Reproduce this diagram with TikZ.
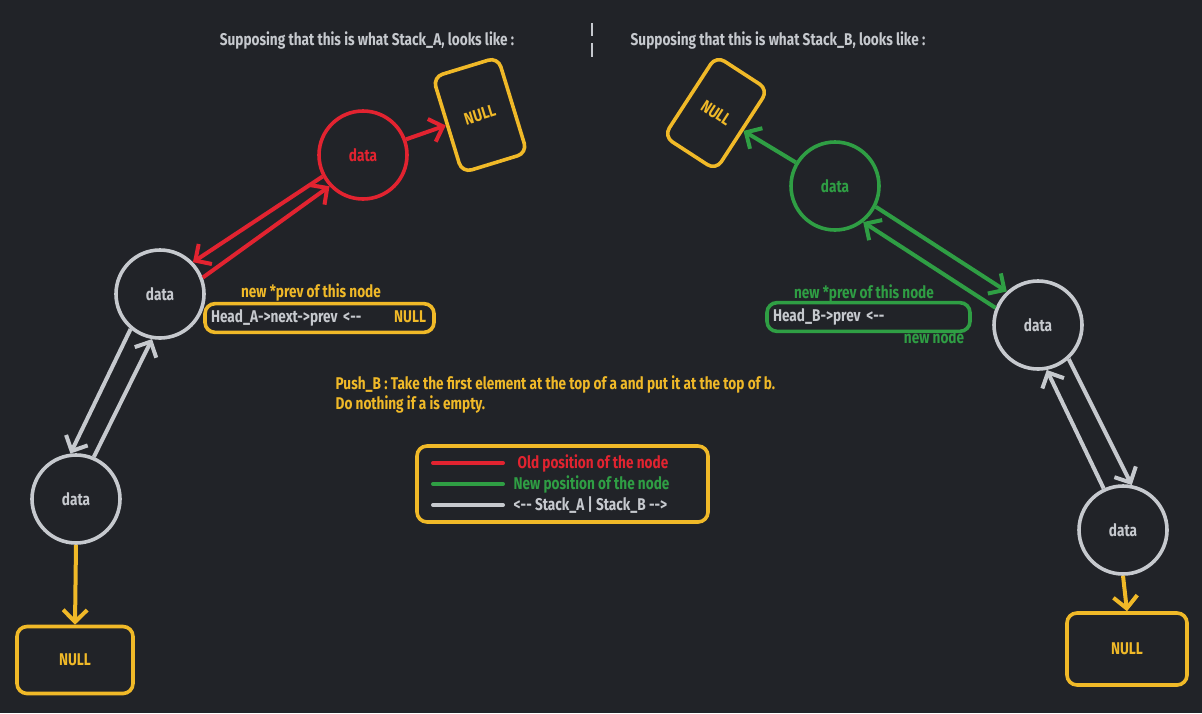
\documentclass[tikz,border=0pt]{standalone}
\usepackage{fontspec}
\setmainfont{Fira Sans}[FakeStretch=0.8]
\usetikzlibrary{arrows.meta}
\definecolor{bg}{RGB}{33,35,40}
\definecolor{cred}{RGB}{226,35,48}
\definecolor{cgreen}{RGB}{47,158,68}
\definecolor{cgray}{RGB}{198,201,206}
\definecolor{cyel}{RGB}{240,185,40}
\begin{document}
\begin{tikzpicture}[x=0.5pt, y=-0.5pt, line width=2pt, >={Straight Barb[length=6pt,width=12pt]},
    every node/.style={font=\fontsize{8.5}{10}\selectfont\bfseries},
    datanode/.style={circle, draw, line width=1.8pt, minimum size=44pt, inner sep=0pt},
    nullbox/.style={draw=cyel, text=cyel, rounded corners=5pt, line width=1.8pt, inner sep=0pt},
    headbox/.style={draw, rounded corners=5pt, line width=1.8pt, inner sep=3pt, align=left, text=cgray}]
   	 \fill[bg] (0,0) rectangle (1202,713);
   	 \node[text=cgray] (supa) at (367,40) {Supposing that this is what Stack\_A, looks like :};
   	 \node[text=cgray] (supb) at (778,40) {Supposing that this is what Stack\_B, looks like :};
   	 \draw[cgray, line width=0.75pt] (592,23) -- (592,36) (592,43) -- (592,57);
   	 \node[datanode, draw=cred, text=cred] (ra) at (363,155) {data};
   	 \node[nullbox, minimum width=34pt, minimum height=50pt, rotate=17] (na) at (480,115) {NULL};
   	 \node[datanode, draw=cgray, text=cgray] (a1) at (160,294) {data};
   	 \node[datanode, draw=cgray, text=cgray] (a2) at (76,499) {data};
   	 \node[nullbox, minimum width=58pt, minimum height=33.5pt] (na2) at (75,660) {NULL};
   	 \draw[->, cred] (ra.20) -- (na.west);
   	 \draw[->, cred] (ra.208) -- (a1.44);
   	 \draw[->, cred] (a1.21) -- (ra.223);
   	 \draw[->, cgray] (a1.230) -- (a2.97);
   	 \draw[->, cgray] (a2.67) -- (a1.260);
   	 \draw[->, cyel] (a2.south) -- (na2.north);
   	 \node[text=cyel] (preva) at (311,292) {new *prev of this node};
   	 \node[headbox, draw=cyel, text width=108.5pt, minimum height=13pt] (ha) at (319.5,318)
   	   {Head\_A->next->prev <-{}-\hfill\textcolor{cyel}{NULL}\hspace*{1pt}};
   	 \node[datanode, draw=cgreen, text=cgreen] (gb) at (835,186) {data};
   	 \node[nullbox, minimum width=31pt, minimum height=48pt, rotate=-33] (nb) at (716,113) {NULL};
   	 \node[datanode, draw=cgray, text=cgray] (b1) at (1038,325) {data};
   	 \node[datanode, draw=cgray, text=cgray] (b2) at (1123,530) {data};
   	 \node[nullbox, minimum width=60pt, minimum height=36pt] (nb2) at (1127,649) {NULL};
   	 \draw[->, cgreen] (gb.149) -- (nb.east);
   	 \draw[->, cgreen] (gb.333) -- (b1.133);
   	 \draw[->, cgreen] (b1.158) -- (gb.308);
   	 \draw[->, cgray] (b1.312) -- (b2.79);
   	 \draw[->, cgray] (b2.115) -- (b1.281);
   	 \draw[->, cyel] (b2.south) -- (nb2.north);
   	 \node[text=cgreen] (prevb) at (864,293) {new *prev of this node};
   	 \node[headbox, draw=cgreen, text width=95.5pt, minimum height=14pt] (hb) at (868.5,317)
   	   {Head\_B->prev <-{}-};
   	 \node[text=cgreen] (newb) at (934,337) {new node};
   	 \node[text=cyel, anchor=west, align=left] (push) at (327,394)
   	   {Push\_B : Take the first element at the top of a and put it at the top of b.\\
   	    Do nothing if a is empty.};
   	 \node[draw=cyel, rounded corners=5pt, line width=1.8pt, minimum width=145.5pt, minimum height=38pt] (leg) at (562.5,484) {};
   	 \draw[cred, line cap=round] (433,463) -- (503,463);
   	 \draw[cgreen, line cap=round] (433,484) -- (503,484);
   	 \draw[cgray, line cap=round] (433,505) -- (503,505);
   	 \node[text=cred, anchor=west] (lold) at (509,463) {Old position of the node};
   	 \node[text=cgreen, anchor=west] (lnew) at (505,484) {New position of the node};
   	 \node[text=cgray, anchor=west] (lstk) at (505,505) {<-{}- Stack\_A | Stack\_B -{}->};
\end{tikzpicture}
\end{document}
